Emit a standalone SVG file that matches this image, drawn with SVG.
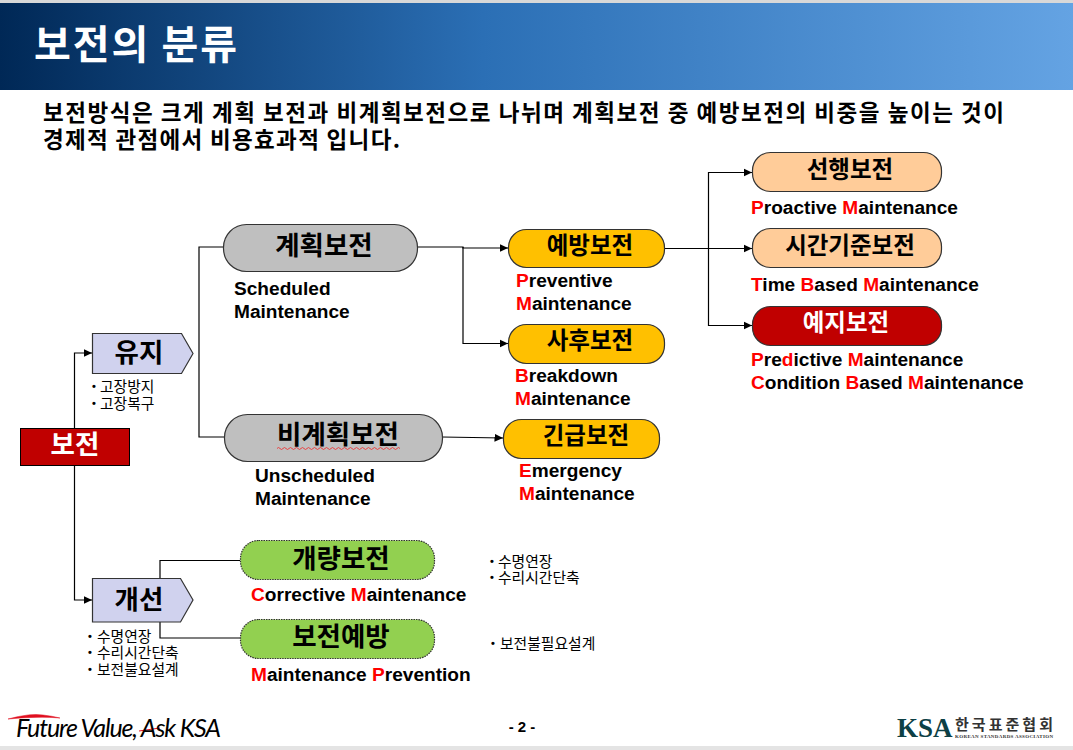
<svg xmlns="http://www.w3.org/2000/svg" width="1073" height="750" viewBox="0 0 1073 750">
<style>
text{font-family:"Liberation Sans","Noto Sans CJK KR",sans-serif;font-weight:700;fill:#000}
.k{font-family:"Noto Sans CJK KR","Liberation Sans",sans-serif}
.n{text-anchor:middle}
.l{font-size:26.500px}
.m{font-size:23.500px}
.w{fill:#fff}
.e{font-size:19.100px}
.r{fill:#f00}
.s{font-family:"Noto Sans CJK KR","Liberation Sans",sans-serif;font-size:14.800px;font-weight:400}
.b{font-size:11px;font-family:"Liberation Sans",sans-serif}
.c{fill:none;stroke:#000;stroke-width:1.2}
.a{marker-end:url(#ah)}
.box{stroke:#333;stroke-width:1.2}
</style>
<defs>
<linearGradient id="hd" x1="0" x2="1" y1="0" y2="0"><stop offset="0" stop-color="#002856"/><stop offset=".45" stop-color="#2b6fb5"/><stop offset="1" stop-color="#64a3e3"/></linearGradient>
<marker id="ah" markerUnits="userSpaceOnUse" markerWidth="9" markerHeight="9" refX="8.500" refY="4.500" orient="auto"><path d="M0 0.500L8.500 4.500L0 8.500Z" fill="#000"/></marker>
</defs>
<rect width="1073" height="750" fill="#fff"/>
<rect width="1073" height="3" fill="#d8d8d8"/>
<rect y="746" width="1073" height="4" fill="#e4e4e4"/>
<rect y="3" width="1073" height="87" fill="url(#hd)"/>
<text class="k w" x="34" y="59" font-size="40" textLength="203">보전의 분류</text>
<text class="k" x="43" y="121" font-size="22.500" textLength="961">보전방식은 크게 계획 보전과 비계획보전으로 나뉘며 계획보전 중 예방보전의 비중을 높이는 것이</text>
<text class="k" x="43" y="148" font-size="22.500" textLength="357">경제적 관점에서 비용효과적 입니다.</text>
<g id="connectors">
<path class="c a" d="M74.500 428V353H92"/>
<path class="c a" d="M74.500 465V600H92"/>
<path class="c" d="M223 247H199V437H224"/>
<path class="c a" d="M417 247H463V248H508"/>
<path class="c a" d="M463 247V343.500H508"/>
<path class="c a" d="M442 437L503 438"/>
<path class="c a" d="M664 248.500H752"/>
<path class="c a" d="M708.500 248V172.500H752"/>
<path class="c a" d="M708.500 248V325.500H752"/>
<path class="c" d="M160 578V560.500H240"/>
<path class="c" d="M160 622V638H240"/>
</g>
<g id="n-bojeon"><rect x="20.500" y="428.500" width="109" height="37" fill="#c00000" stroke="#000" stroke-width="1"/><text class="k n w l" x="75" y="454">보전</text></g>
<g id="n-yuji"><path class="box" d="M92.500 333.500H181.500L193 353.500L181.500 373.500H92.500Z" fill="#d0d2ee"/><text class="k n l" x="139" y="362">유지</text></g>
<text class="s" x="100" y="392">고장방지</text><text class="b" x="92" y="390">•</text>
<text class="s" x="100" y="409">고장복구</text><text class="b" x="92" y="407">•</text>
<g id="n-gaeseon"><path class="box" d="M92.500 578.500H180.500L193 600L180.500 622H92.500Z" fill="#d0d2ee"/><text class="k n l" x="139" y="609">개선</text></g>
<text class="s" x="97" y="642">수명연장</text><text class="b" x="88" y="640">•</text>
<text class="s" x="97" y="658">수리시간단축</text><text class="b" x="88" y="656">•</text>
<text class="s" x="97" y="675">보전불요설계</text><text class="b" x="88" y="673">•</text>
<g id="n-gyehoek"><rect class="box" x="223.500" y="224.500" width="194" height="47" rx="23" fill="#bfbfbf"/><text class="k n l" x="324" y="255">계획보전</text></g>
<text class="e" x="234" y="295">Scheduled</text>
<text class="e" x="234" y="318">Maintenance</text>
<g id="n-bigyehoek"><rect class="box" x="224.500" y="414.500" width="218" height="47" rx="23" fill="#bfbfbf"/><text class="k n l" x="338" y="444">비계획보전</text><path d="M277 448.500q1.500 -2 3 0t3 0t3 0t3 0t3 0t3 0t3 0t3 0t3 0t3 0t3 0t3 0t3 0t3 0t3 0t3 0t3 0t3 0t3 0t3 0t3 0t3 0t3 0t3 0t3 0t3 0t3 0t3 0t3 0t3 0t3 0t3 0t3 0t3 0t3 0t3 0t3 0t3 0t3 0t3 0t3 0" fill="none" stroke="#e33" stroke-width=".9"/></g>
<text class="e" x="255" y="482">Unscheduled</text>
<text class="e" x="255" y="505">Maintenance</text>
<g id="n-yebang"><rect class="box" x="508.500" y="229.500" width="156" height="38" rx="18" fill="#ffc000"/><text class="k n m" x="590" y="254">예방보전</text></g>
<text class="e" x="516" y="287"><tspan class="r">P</tspan>reventive</text>
<text class="e" x="516" y="310"><tspan class="r">M</tspan>aintenance</text>
<g id="n-sahu"><rect class="box" x="508.500" y="324.500" width="156" height="39" rx="18" fill="#ffc000"/><text class="k n m" x="590" y="349">사후보전</text></g>
<text class="e" x="515" y="382"><tspan class="r">B</tspan>reakdown</text>
<text class="e" x="515" y="405"><tspan class="r">M</tspan>aintenance</text>
<g id="n-gingeup"><rect class="box" x="503.500" y="419.500" width="156" height="39" rx="18" fill="#ffc000"/><text class="k n m" x="586" y="444">긴급보전</text></g>
<text class="e" x="519" y="477"><tspan class="r">E</tspan>mergency</text>
<text class="e" x="519" y="500"><tspan class="r">M</tspan>aintenance</text>
<g id="n-seonhaeng"><rect class="box" x="752.500" y="152.500" width="189" height="39" rx="18" fill="#ffcc99"/><text class="k n m" x="850" y="178">선행보전</text></g>
<text class="e" x="751" y="214"><tspan class="r">P</tspan>roactive <tspan class="r">M</tspan>aintenance</text>
<g id="n-sigan"><rect class="box" x="752.500" y="228.500" width="189" height="39" rx="18" fill="#ffcc99"/><text class="k n m" x="850" y="254">시간기준보전</text></g>
<text class="e" x="751" y="291"><tspan class="r">T</tspan>ime <tspan class="r">B</tspan>ased <tspan class="r">M</tspan>aintenance</text>
<g id="n-yeji"><rect class="box" x="752.500" y="306.500" width="189" height="39" rx="18" fill="#c00000"/><text class="k n w m" x="846" y="331">예지보전</text></g>
<text class="e" x="751" y="366"><tspan class="r">P</tspan>re<tspan class="r">d</tspan>ictive <tspan class="r">M</tspan>aintenance</text>
<text class="e" x="751" y="389"><tspan class="r">C</tspan>ondition <tspan class="r">B</tspan>ased <tspan class="r">M</tspan>aintenance</text>
<g id="n-gaeryang"><rect class="box" x="240.500" y="540.500" width="194" height="39" rx="18" fill="#92d050" stroke-dasharray="1.500 1"/><text class="k n l" x="341" y="568">개량보전</text></g>
<text class="e" x="251" y="601"><tspan class="r">C</tspan>orrective <tspan class="r">M</tspan>aintenance</text>
<text class="s" x="498" y="567">수명연장</text><text class="b" x="490" y="565">•</text>
<text class="s" x="498" y="583">수리시간단축</text><text class="b" x="490" y="581">•</text>
<g id="n-bojeonyebang"><rect class="box" x="240.500" y="619.500" width="194" height="39" rx="18" fill="#92d050" stroke-dasharray="1.500 1"/><text class="k n l" x="341" y="646">보전예방</text></g>
<text class="e" x="251" y="681"><tspan class="r">M</tspan>aintenance <tspan class="r">P</tspan>revention</text>
<text class="s" x="500" y="649">보전불필요설계</text><text class="b" x="491" y="647">•</text>
<text x="522" y="732" font-size="15" text-anchor="middle">- 2 -</text>
<path d="M8 719Q30 713 43 715Q52 716 60 718Q40 716 8 719Z" fill="#e01020" stroke="#e01020" stroke-width=".5"/>
<path d="M139 731L160 728" stroke="#e01020" stroke-width="1"/>
<text x="16" y="737" font-size="25" style="font-style:italic;font-weight:400;font-family:Lato,sans-serif" textLength="205">Future Value, Ask KSA</text>
<text x="897" y="737" font-size="27" style="font-family:'Liberation Serif',serif;fill:#0d4045">KSA</text>
<text class="k" x="955" y="730" font-size="15" textLength="98" style="fill:#333">한국표준협회</text>
<text x="955" y="738" font-size="5" textLength="98" style="fill:#333;font-family:'Liberation Serif',serif">KOREAN STANDARDS ASSOCIATION</text>
</svg>
